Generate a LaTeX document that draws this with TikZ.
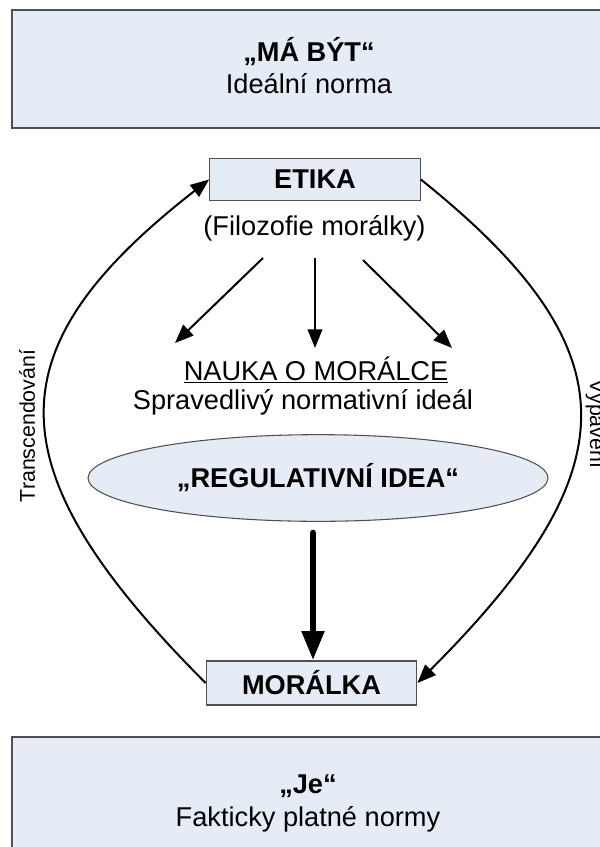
\documentclass[tikz,border=0pt]{standalone}
\usepackage{fontspec}
\setmainfont{Liberation Sans}
\usetikzlibrary{arrows.meta,shapes.geometric}
\definecolor{boxfill}{RGB}{230,236,246}
\definecolor{boxline}{RGB}{80,80,80}
\begin{document}
\begin{tikzpicture}[x=0.75pt,y=-0.75pt,
    panel/.style={draw=boxline,fill=boxfill,line width=0.8pt},
    bigtext/.style={font=\fontsize{20.4}{24}\selectfont,inner sep=0pt,anchor=base},
    boldtext/.style={font=\fontsize{20.4}{24}\selectfont\bfseries,inner sep=0pt},
    sidetext/.style={font=\fontsize{16}{18}\selectfont,inner sep=0pt,anchor=base},
    thinarrow/.style={line width=1.5pt,-{Triangle[length=14pt,width=11pt]}},
    thickarrow/.style={line width=5pt,line cap=round,-{Triangle[length=22pt,width=16pt]}}]
  \useasboundingbox (0,0) rectangle (600,847);
  % outer panels
  \draw[panel] (12,10) rectangle (612,128);
  \draw[panel] (12,737) rectangle (612,870);
  \node[bigtext,font=\fontsize{20.4}{24}\selectfont\bfseries] (mabyt) at (309,61) {„MÁ BÝT“};
  \node[bigtext] (norma) at (309,93) {Ideální norma};
  \node[bigtext,font=\fontsize{20.4}{24}\selectfont\bfseries] (je) at (308,793) {„Je“};
  \node[bigtext] (fakt) at (308,826) {Fakticky platné normy};
  % inner boxes
  \node[panel,boldtext,minimum width=158pt,minimum height=32pt] (etika) at (315,179.5) {ETIKA};
  \node[panel,boldtext,minimum width=158pt,minimum height=33pt] (moralka) at (311.5,683) {MORÁLKA};
  \node[bigtext] (filoz) at (314.5,235) {(Filozofie morálky)};
  \node[bigtext] (nauka) at (316,380) {\underline{NAUKA O MORÁLCE}};
  \node[bigtext] (ideal) at (303,409) {Spravedlivý normativní ideál};
  \node[panel,ellipse,inner sep=0pt,minimum width=345pt,minimum height=65pt] (idea) at (318,478) {};
  \node[boldtext] (ideatext) at (idea.center) {„REGULATIVNÍ IDEA“};
  % arrows from ETIKA
  \coordinate (fl) at (263,258);
  \coordinate (fm) at (315,258);
  \coordinate (fr) at (363,260);
  \coordinate (tl) at (175,343);
  \coordinate (tm) at (315,348);
  \coordinate (tr) at (452,348);
  \draw[thinarrow] (fl) -- (tl);
  \draw[thinarrow] (fm) -- (tm);
  \draw[thinarrow] (fr) -- (tr);
  \coordinate (rs) at (313,533);
  \draw[thickarrow] (rs) -- (rs |- moralka.north);
  % side loops
  \draw[thinarrow] (moralka.west) .. controls (-10,467) and (-7,348) .. (etika.west);
  \draw[thinarrow] (etika.east) .. controls (635,351) and (631,469) .. (moralka.east);
  \node[sidetext,rotate=90] (trans) at (35,426) {Transcendování};
  \node[sidetext,rotate=-90] (vyp) at (590,424) {Vypavení};
\end{tikzpicture}
\end{document}
